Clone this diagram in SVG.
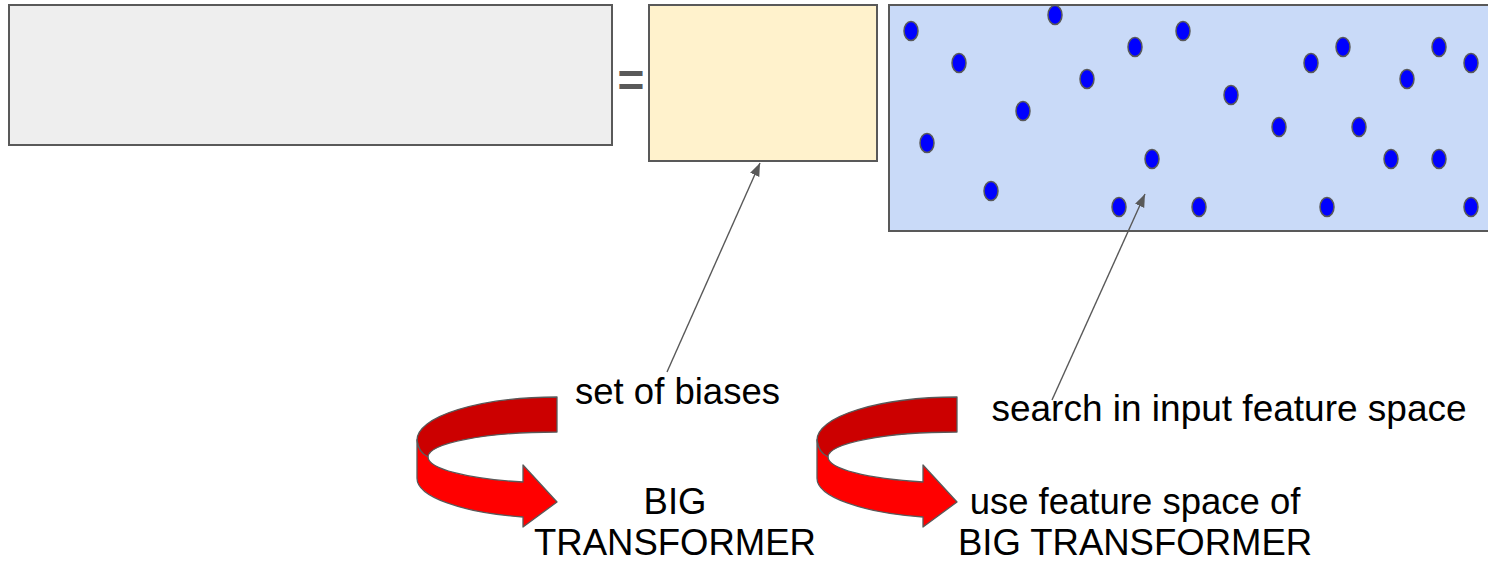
<svg xmlns="http://www.w3.org/2000/svg" width="1488" height="561" viewBox="0 0 1488 561">
  <style>
    .box { stroke: #595959; stroke-width: 2; }
    .dot { fill: #0000ff; stroke: #595959; stroke-width: 1.5; }
    .lbl { font-family: "Liberation Sans", Arial, sans-serif; font-size: 36.5px; fill: #000000; text-anchor: middle; }
    .eq { font-family: "Liberation Sans", Arial, sans-serif; font-size: 46px; font-weight: bold; fill: #595959; text-anchor: middle; }
    .conn { stroke: #595959; stroke-width: 1.4; fill: none; marker-end: url(#head); }
    .back { fill: #cc0000; stroke: #595959; stroke-width: 1.3; stroke-linejoin: round; }
    .front { fill: #ff0000; stroke: #595959; stroke-width: 1.3; stroke-linejoin: round; }
  </style>
  <defs>
    <marker id="head" markerUnits="userSpaceOnUse" markerWidth="15" markerHeight="11" refX="13" refY="5" orient="auto">
      <path d="M0,0 L13,5 L0,10 Z" fill="#595959"/>
    </marker>
    <!-- ribbon-style curved arrow, drawn with its right edge at x=0 -->
    <g id="curl">
      <path class="back" d="M0,397 A140 43 0 0 0 -140,440 Q-139,452 -129,457 A129 25 0 0 1 0,432 Z"/>
      <path class="front" d="M-140,440 L-140,478 A140 40 0 0 0 -34,517 L-34,527 L0,502 L-34,465 L-34,482 A129 26 0 0 1 -129,457 Q-139,452 -140,440 Z"/>
    </g>
  </defs>

  <!-- left matrix -->
  <g id="matrix-left">
    <rect class="box" x="9" y="5" width="603" height="140" fill="#eeeeee"/>
  </g>

  <g id="equals">
    <text class="eq" x="631" y="96">=</text>
  </g>

  <!-- bias matrix -->
  <g id="bias-matrix">
    <rect class="box" x="649" y="5" width="228" height="156" fill="#fff2cc"/>
  </g>

  <!-- input feature space with sample points -->
  <g id="feature-space">
    <rect class="box" x="889" y="5" width="605" height="226" fill="#c9daf8"/>
    <g id="points">
      <ellipse class="dot" cx="911" cy="31" rx="7" ry="9.5"/>
      <ellipse class="dot" cx="1055" cy="15" rx="7" ry="9.5"/>
      <ellipse class="dot" cx="1135" cy="47" rx="7" ry="9.5"/>
      <ellipse class="dot" cx="959" cy="63" rx="7" ry="9.5"/>
      <ellipse class="dot" cx="1087" cy="79" rx="7" ry="9.5"/>
      <ellipse class="dot" cx="1023" cy="111" rx="7" ry="9.5"/>
      <ellipse class="dot" cx="927" cy="143" rx="7" ry="9.5"/>
      <ellipse class="dot" cx="1152" cy="159" rx="7" ry="9.5"/>
      <ellipse class="dot" cx="991" cy="191" rx="7" ry="9.5"/>
      <ellipse class="dot" cx="1119" cy="207" rx="7" ry="9.5"/>
      <ellipse class="dot" cx="1183" cy="31" rx="7" ry="9.5"/>
      <ellipse class="dot" cx="1343" cy="47" rx="7" ry="9.5"/>
      <ellipse class="dot" cx="1439" cy="47" rx="7" ry="9.5"/>
      <ellipse class="dot" cx="1311" cy="63" rx="7" ry="9.5"/>
      <ellipse class="dot" cx="1471" cy="63" rx="7" ry="9.5"/>
      <ellipse class="dot" cx="1407" cy="79" rx="7" ry="9.5"/>
      <ellipse class="dot" cx="1231" cy="95" rx="7" ry="9.5"/>
      <ellipse class="dot" cx="1279" cy="127" rx="7" ry="9.5"/>
      <ellipse class="dot" cx="1359" cy="127" rx="7" ry="9.5"/>
      <ellipse class="dot" cx="1391" cy="159" rx="7" ry="9.5"/>
      <ellipse class="dot" cx="1439" cy="159" rx="7" ry="9.5"/>
      <ellipse class="dot" cx="1199" cy="207" rx="7" ry="9.5"/>
      <ellipse class="dot" cx="1327" cy="207" rx="7" ry="9.5"/>
      <ellipse class="dot" cx="1471" cy="207" rx="7" ry="9.5"/>
    </g>
  </g>

  <!-- pointer lines from labels to boxes -->
  <g id="connectors">
    <line class="conn" x1="667" y1="372" x2="760" y2="163"/>
    <line class="conn" x1="1052" y1="400" x2="1145" y2="194"/>
  </g>

  <g id="label-biases">
    <text class="lbl" x="677.5" y="404">set of biases</text>
  </g>
  <g id="label-search">
    <text class="lbl" x="1229" y="421" style="font-size:37px">search in input feature space</text>
  </g>

  <g id="curl-left">
    <use href="#curl" x="557" y="0"/>
  </g>
  <g id="label-big-transformer">
    <text class="lbl" x="675" y="514">BIG</text>
    <text class="lbl" x="675" y="555">TRANSFORMER</text>
  </g>

  <g id="curl-right">
    <use href="#curl" x="957" y="0"/>
  </g>
  <g id="label-use-feature-space">
    <text class="lbl" x="1135" y="514">use feature space of</text>
    <text class="lbl" x="1135" y="555">BIG TRANSFORMER</text>
  </g>
</svg>
